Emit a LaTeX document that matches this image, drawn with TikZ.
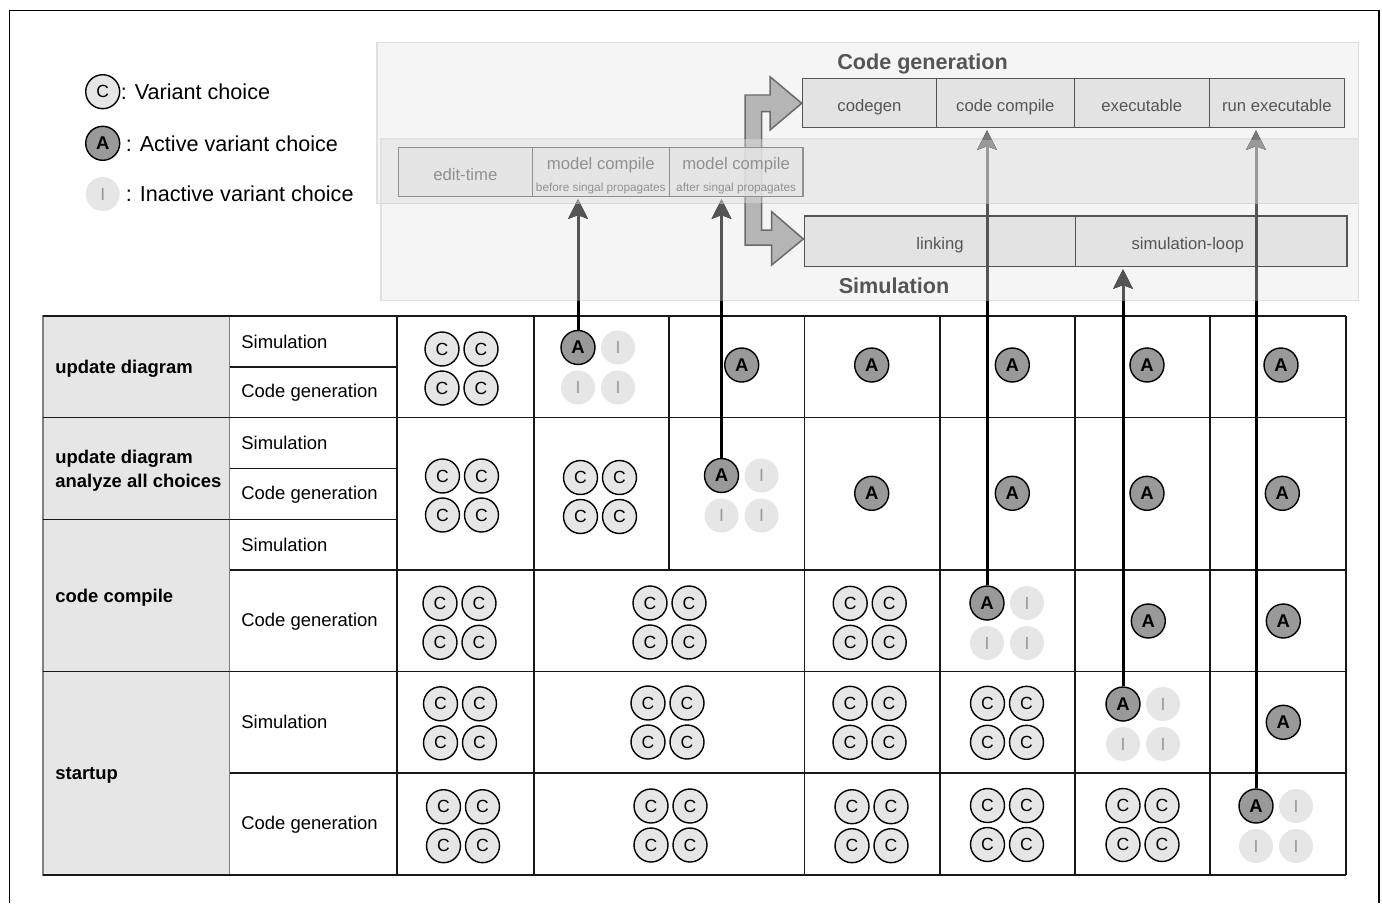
\documentclass[tikz,border=0pt]{standalone}
\usepackage{fontspec}
\setmainfont{Liberation Sans}
\usetikzlibrary{arrows.meta,positioning}

\definecolor{cellgray}{HTML}{E6E6E6}
\definecolor{actgray}{HTML}{999999}
\definecolor{boxline}{HTML}{555555}
\definecolor{boxfill}{HTML}{E3E3E3}
\definecolor{bandgray}{HTML}{E9E9E9}
\definecolor{forkfill}{HTML}{B5B5B5}
\definecolor{forkline}{HTML}{6A6A6A}

\tikzset{
  choice/.style={circle, draw=black, line width=0.8pt, fill=cellgray,
    minimum size=0.68cm, inner sep=0pt, font=\fontsize{10}{12}\selectfont},
  active/.style={choice, fill=actgray, font=\fontsize{10.5}{12}\selectfont\bfseries},
  inactive/.style={choice, draw=none, text=actgray},
  stage/.style={draw=boxline, line width=0.85pt, fill=boxfill, text=boxline,
    outer sep=0pt, inner sep=0pt, font=\fontsize{9.5}{11}\selectfont},
  stagebox/.style={stage, text height=9.2pt, text depth=0pt},
  stagetext/.style={text=boxline, inner sep=0pt, text height=9.2pt, text depth=0pt,
    font=\fontsize{9.5}{11}\selectfont},
  phase/.style={text=boxline, inner sep=0pt, font=\fontsize{12.3}{14}\selectfont\bfseries},
  legendtext/.style={inner sep=0pt, font=\fontsize{12.3}{14}\selectfont},
  rowhead/.style={anchor=west, inner sep=0pt, align=left,
    font=\fontsize{10.5}{13.6}\selectfont\bfseries},
  subrow/.style={anchor=west, inner sep=0pt, font=\fontsize{10.5}{12}\selectfont},
  grid/.style={line width=1pt, draw=black!90},
  forkarrow/.style={fill=forkfill, draw=forkline, line width=0.85pt, line join=miter},
  trace/.style={line width=1.7pt, shorten >=1.5pt,
    -{Stealth[length=11pt,width=11pt,inset=2pt]}}
}

% four undecided choices around a cell centre
\newcommand{\choicegroup}[3]{%
  \node[choice] (#1nw) at (#2-19.5,#3-19.5) {C};
  \node[choice] (#1ne) at (#2+19.5,#3-19.5) {C};
  \node[choice] (#1sw) at (#2-19.5,#3+19.5) {C};
  \node[choice] (#1se) at (#2+19.5,#3+19.5) {C};}

% one active choice, three inactive ones
\newcommand{\activegroup}[3]{%
  \node[active] (#1) at (#2-20,#3-20) {A};
  \node[inactive] (#1ne) at (#2+20,#3-20) {I};
  \node[inactive] (#1sw) at (#2-20,#3+20) {I};
  \node[inactive] (#1se) at (#2+20,#3+20) {I};}

% arrow from an active choice up to its stage, shaded by the panels it crosses
\newcommand{\tracearrow}[2]{%
  \draw[trace] (#1) -- (#1 |- #2.south);
  \begin{scope}
    \clip (0,300.7) rectangle (1382,203);
    \draw[trace, draw=boxline] (#1) -- (#1 |- #2.south);
  \end{scope}
  \begin{scope}
    \clip (0,203) rectangle (1382,139);
    \draw[trace, draw=actgray] (#1) -- (#1 |- #2.south);
  \end{scope}
  \begin{scope}
    \clip (0,139) rectangle (1382,0);
    \draw[trace, draw=black!53] (#1) -- (#1 |- #2.south);
  \end{scope}}

\begin{document}
\begin{tikzpicture}[x=0.02cm, y=-0.02cm]
\useasboundingbox (0,0) rectangle (1382,903);
\draw[line width=0.75pt] (9.5,903) -- (9.5,10.5) -- (1379,10.5) -- (1379,903);

% panels
\filldraw[fill=black, fill opacity=0.04, draw=black!12, line width=0.85pt]
  (377,42.3) rectangle (1358.7,203.3);
\filldraw[fill=black, fill opacity=0.04, draw=black!12, line width=0.85pt]
  (381,139) rectangle (1358.7,300.3);

% forked arrow
\draw[forkarrow] (745,95) -- (770,95) -- (770,76.7) -- (801.7,103.3) -- (770,130)
  -- (770,111.7) -- (761.7,111.7) -- (761.7,230) -- (771.7,230) -- (771.7,211.7)
  -- (803.3,239) -- (771.7,265) -- (771.7,245) -- (745,245) -- cycle;

% model stages
\node[stagebox, fill opacity=0.8, text opacity=1, minimum width=2.68cm,
  minimum height=0.98cm] (edit) at (465.3,172.2) {edit-time};
\node[stage, fill opacity=0.8, text opacity=1, minimum width=2.74cm,
  minimum height=0.98cm, text height=22.8pt, align=center, right=0pt of edit] (mc1)
  {model compile\\[1pt]{\fontsize{6.7}{8}\selectfont before singal propagates}};
\node[stage, fill opacity=0.8, text opacity=1, minimum width=2.674cm,
  minimum height=0.98cm, text height=22.8pt, align=center, right=0pt of mc1] (mc2)
  {model compile\\[1pt]{\fontsize{6.7}{8}\selectfont after singal propagates}};
\fill[bandgray, opacity=0.4] (381,139) rectangle (1358.7,203.3);

% code generation stages
\node[stagebox, minimum width=2.676cm, minimum height=0.99cm] (codegen) at (869.5,103) {codegen};
\node[stagebox, minimum width=2.758cm, minimum height=0.99cm, right=0pt of codegen] (ccomp) {code compile};
\node[stagebox, minimum width=2.70cm, minimum height=0.99cm, right=0pt of ccomp] (exe) {executable};
\node[stagebox, minimum width=2.706cm, minimum height=0.99cm, right=0pt of exe] (runexe) {run executable};
\node[phase] (cgtitle) at (922.5,63.5) {Code generation};

% simulation stages
\node[stagebox, minimum width=5.42cm, minimum height=1.014cm] (linking) at (940,241.3) {linking};
\node[stagebox, minimum width=5.43cm, minimum height=1.014cm, right=0pt of linking] (loop) {};
\node[stagetext] (looptext) at ([xshift=-0.47cm]loop.center) {simulation-loop};
\node[phase] (simtitle) at (894,286) {Simulation};

% legend
\node[choice] (lc) at (102.7,91.7) {C};
\node[legendtext, right=0pt of lc] (lctext) {: Variant choice};
\node[active] (la) at (102.7,143.3) {A};
\node[legendtext, right=0.1cm of la] (latext) {: Active variant choice};
\node[inactive] (li) at (102.7,194) {I};
\node[legendtext, right=0.1cm of li] (litext) {: Inactive variant choice};

% table
\filldraw[fill=cellgray, draw=black!50, line width=1pt] (43,316) rectangle (229.5,875);
\foreach \y in {316,417.5,671.5,875} \draw[grid] (43,\y) -- (1346,\y);
\foreach \y in {570,773} \draw[grid] (229.5,\y) -- (1346,\y);
\foreach \y in {367,468.5} \draw[grid] (229.5,\y) -- (397,\y);
\draw[grid] (43,519.5) -- (397,519.5);
\foreach \x in {397,534,804.5,940,1075,1210,1346} \draw[grid] (\x,316) -- (\x,875);
\draw[grid] (669,316) -- (669,570);

\node[rowhead] (upd) at (55,369) {update diagram};
\node[rowhead] (ana) at (55,470.5) {update diagram\\analyze all choices};
\node[rowhead] (cc) at (55,598) {code compile};
\node[rowhead] (start) at (55,775.5) {startup};

\foreach \y/\t [count=\i] in {341.5/Simulation, 393/Code generation,
  443/Simulation, 495/Code generation, 544.75/Simulation, 621.5/Code generation,
  722.25/Simulation, 825/Code generation}
  \node[subrow] (sub\i) at (241,\y) {\t};

\foreach \x/\y [count=\i] in {461.5/368.5, 462/495.5, 459.5/622.8, 460/723.3,
  463/826.2, 600/497, 669.5/622.5, 667.5/722.5, 670.5/825.5, 869.7/622.8,
  869.5/722.8, 871.5/826.2, 1007/722.8, 1007/825, 1142.5/825}
  \choicegroup{cg\i}{\x}{\y};

\foreach \x/\y [count=\i] in {741.7/365, 871.7/365, 1012.3/365, 1147/365,
  1281/365, 871.7/493.3, 1012.3/493.3, 1147/493.3, 1282.3/493.3,
  1148.3/621, 1283.3/621, 1283.3/722.3}
  \node[active] (act\i) at (\x,\y) {A};

\activegroup{actmc1}{598}{367.5}
\activegroup{actmc2}{741.5}{495.5}
\activegroup{actcc}{1007}{623}
\activegroup{actloop}{1143}{724}
\activegroup{actrun}{1276}{826}

% active choices point at their stages
\tracearrow{actmc1}{mc1}
\tracearrow{actmc2}{mc2}
\tracearrow{actcc}{ccomp}
\tracearrow{actloop}{loop}
\tracearrow{actrun}{runexe}
\end{tikzpicture}
\end{document}
